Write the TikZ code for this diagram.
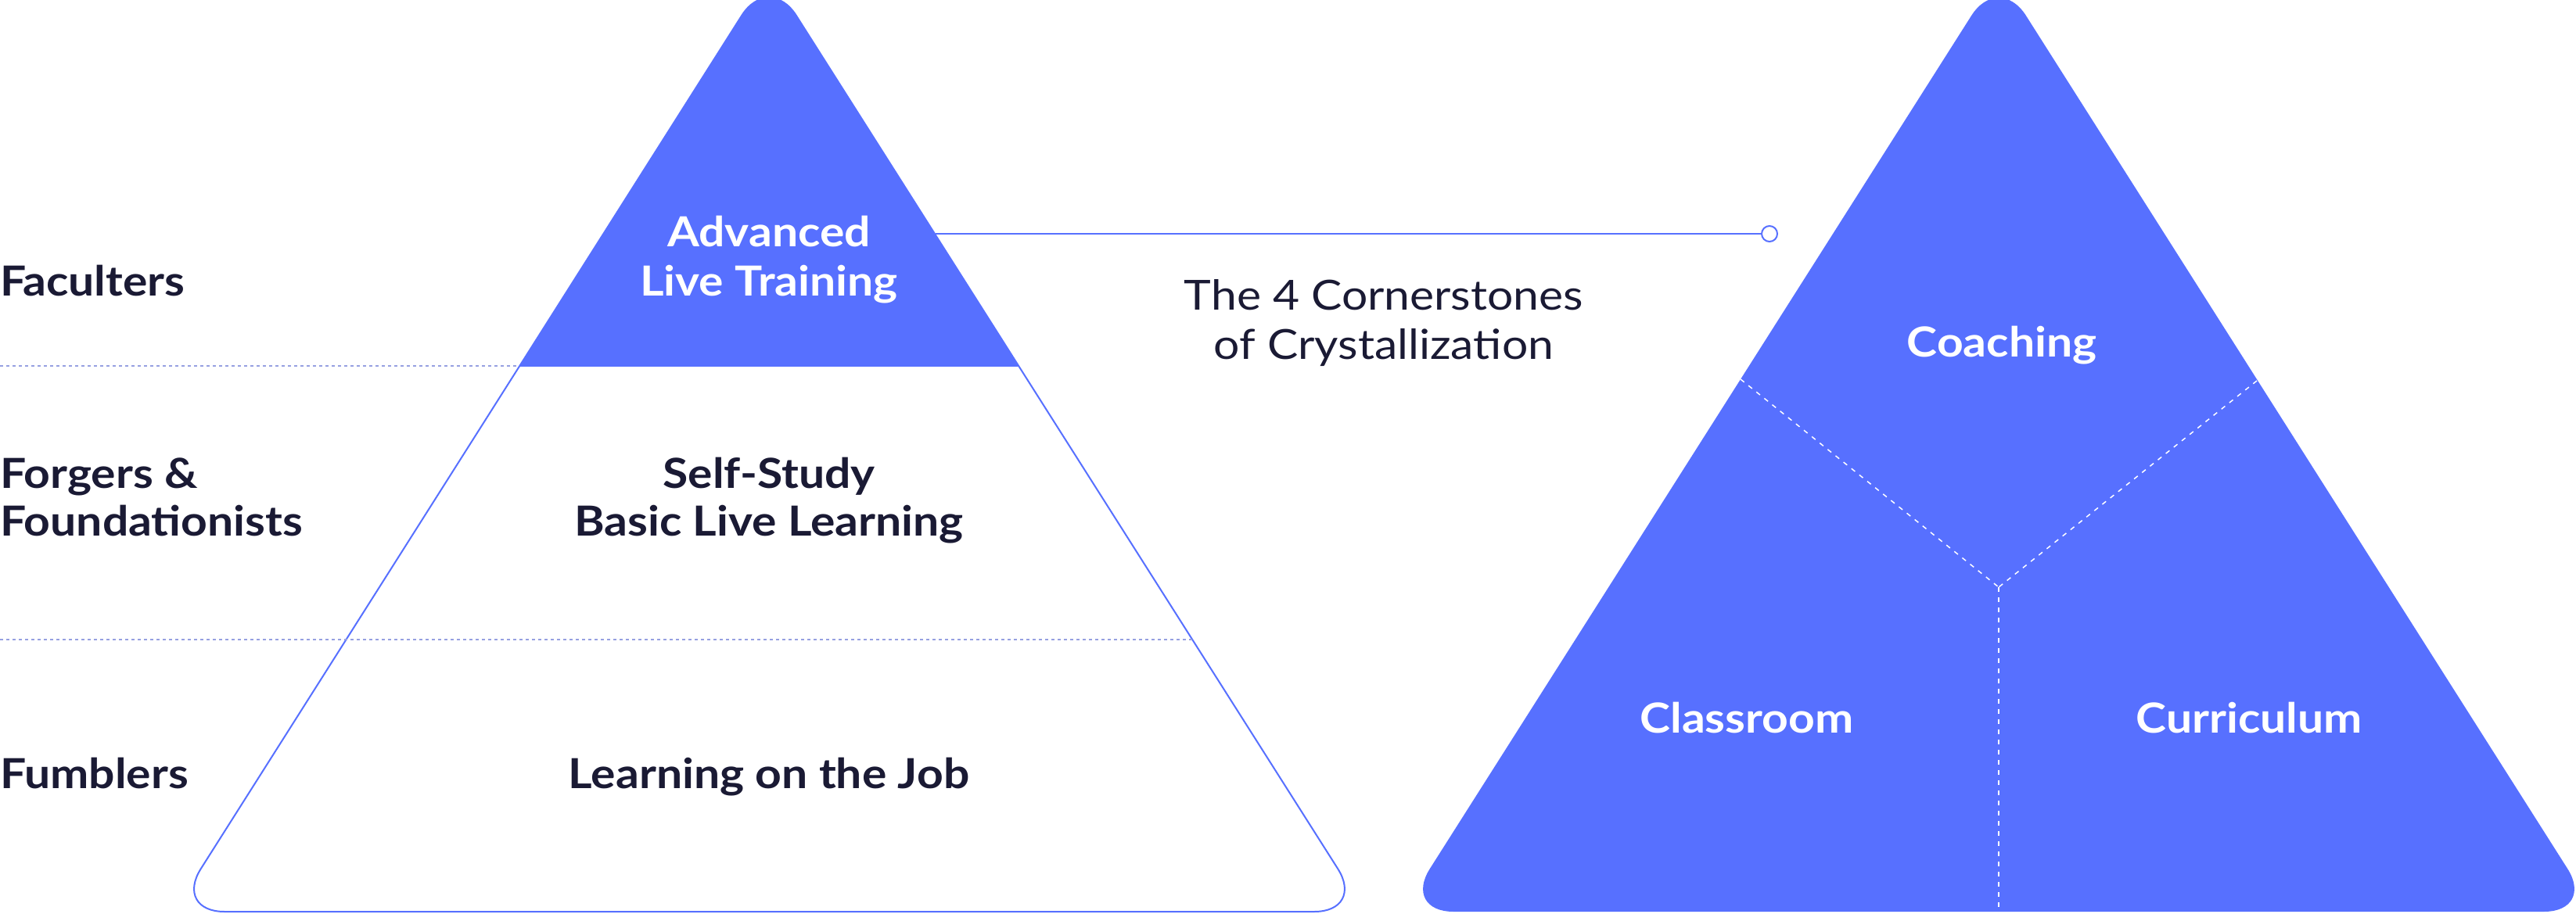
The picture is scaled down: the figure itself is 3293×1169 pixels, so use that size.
\documentclass[tikz,border=0pt]{standalone}
\usepackage{fontspec}
\setmainfont{Lato}[FakeStretch=1.11]
\usepackage{tikz}

\definecolor{crystalblue}{RGB}{87,112,255}
\definecolor{inkdark}{RGB}{26,26,52}
\definecolor{tiergray}{RGB}{150,160,225}

\newcommand{\leftpyramid}{(222,1166) -- (983,-35) -- (1745,1166) -- cycle}
\newcommand{\rightpyramid}{(1793,1166) -- (2555,-35) -- (3317,1166) -- cycle}

\begin{document}
\begin{tikzpicture}[x=1pt, y=-1pt,
  tierlabel/.style={font=\bfseries\fontsize{53}{63}\selectfont, text=inkdark,
    anchor=base west, inner sep=0},
  tiertext/.style={font=\bfseries\fontsize{53}{63}\selectfont, text=inkdark,
    anchor=base, inner sep=0},
  stonetext/.style={font=\bfseries\fontsize{53}{63}\selectfont, text=white,
    anchor=base, inner sep=0},
  titletext/.style={font=\fontsize{53}{63}\selectfont, text=inkdark,
    anchor=base, inner sep=0},
  tierline/.style={tiergray, line width=1.5, dash pattern=on 4pt off 4pt},
  splitline/.style={white, line width=1.5, dash pattern=on 6pt off 7pt},
  pin/.style={circle, draw=crystalblue, fill=white, line width=2,
    minimum size=20, inner sep=0}]

\useasboundingbox (0,0) rectangle (3293,1169);

\coordinate (tierA) at (0,468);
\coordinate (tierAend) at (664,468);
\coordinate (tierB) at (0,818);
\coordinate (tierBend) at (1527,818);
\coordinate (advedge) at (1196,299);

\node[pin] (corner) at (2262,299) {};

\draw[crystalblue, line width=2.5]
  (advedge)
  --
  (corner);

\draw[tierline]
  (tierA) -- (tierAend);

\draw[crystalblue, fill=white, line width=2, rounded corners=65pt]
  \leftpyramid;

\begin{scope}
\clip (0,-60) rectangle (3293,468);
\fill[crystalblue, rounded corners=65pt]
  \leftpyramid;
\end{scope}

\draw[tierline]
  (tierB) -- (tierBend);

\fill[crystalblue, rounded corners=65pt]
  \rightpyramid;

\coordinate (splitL) at (2225,485);
\coordinate (splitR) at (2885,487);
\coordinate (core) at (2555,751);
\coordinate (foot) at (2555,1169);

\draw[splitline]
  (splitL) -- (core);
\draw[splitline]
  (splitR) -- (core);
\draw[splitline]
  (core) -- (foot);

\node[tierlabel] (faculters) at (0,378) {Faculters};
\node[tierlabel] (forgers) at (0,624) {Forgers \&};
\node[tierlabel] (foundationists) at (0,685) {Foundationists};
\node[tierlabel] (fumblers) at (0,1008) {Fumblers};

\node[stonetext] (advanced) at (983,315) {Advanced};
\node[stonetext] (livetraining) at (983,378) {Live Training};
\node[tiertext] (selfstudy) at (983,624) {Self-Study};
\node[tiertext] (basiclive) at (983,685) {Basic Live Learning};
\node[tiertext] (onthejob) at (983,1008) {Learning on the Job};

\node[titletext] (cornerstones) at (1769,396) {The 4 Cornerstones};
\node[titletext] (crystal) at (1769,459) {of Crystallization};

\node[stonetext] (coaching) at (2559,456) {Coaching};
\node[stonetext] (classroom) at (2233,937) {Classroom};
\node[stonetext] (curriculum) at (2875,937) {Curriculum};

\end{tikzpicture}
\end{document}
